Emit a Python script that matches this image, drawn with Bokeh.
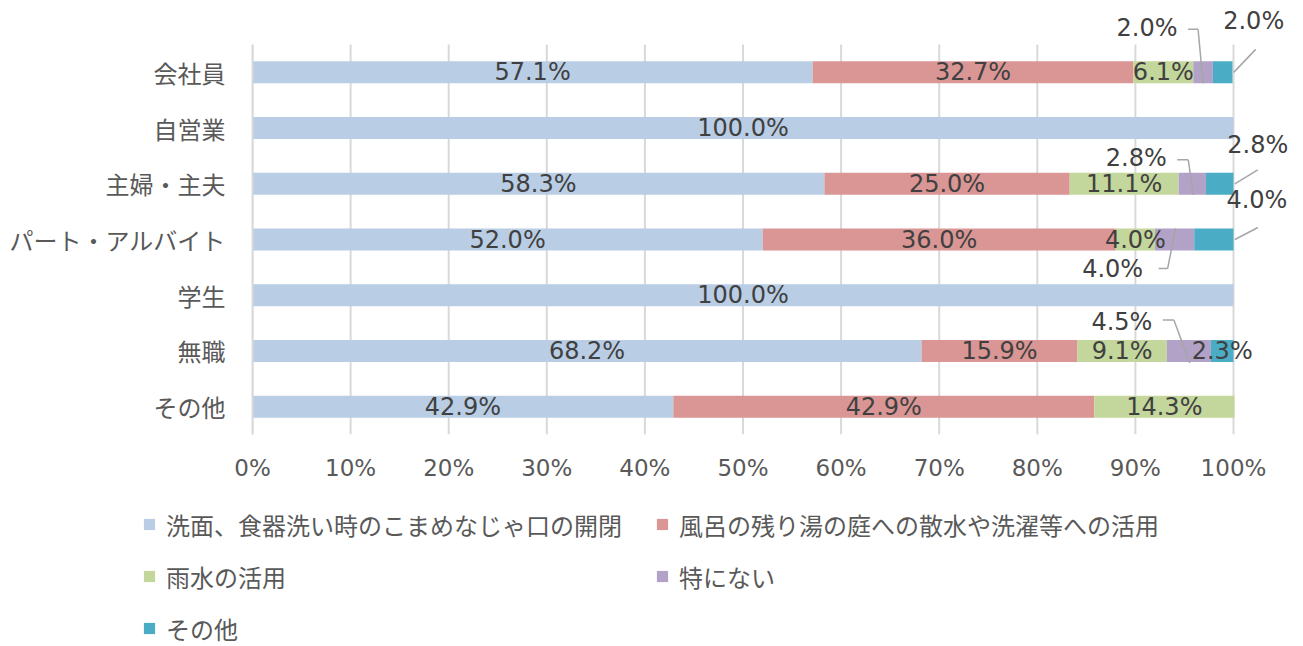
from bokeh.plotting import figure
from bokeh.models import (Range1d, FixedTicker, Legend, LegendItem, ColumnDataSource,
                          LabelSet, Arrow)
from bokeh.core.properties import value
from bokeh.embed import file_html
from bokeh.resources import INLINE

# ---------------- data ----------------
categories = ["会社員", "自営業", "主婦・主夫", "パート・アルバイト", "学生", "無職", "その他"]
series_names = ["洗面、食器洗い時のこまめなじゃ口の開閉",
                "風呂の残り湯の庭への散水や洗濯等への活用",
                "雨水の活用", "特にない", "その他"]
s_wash = [57.1, 100.0, 58.3, 52.0, 100.0, 68.2, 42.9]
s_bath = [32.7, 0.0, 25.0, 36.0, 0.0, 15.9, 42.9]
s_rain = [6.1, 0.0, 11.1, 4.0, 0.0, 9.1, 14.3]
s_none = [2.0, 0.0, 2.8, 4.0, 0.0, 4.5, 0.0]
s_other = [2.0, 0.0, 2.8, 4.0, 0.0, 2.3, 0.0]
x_ticks = [0, 10, 20, 30, 40, 50, 60, 70, 80, 90, 100]
x_tick_labels = ["0%", "10%", "20%", "30%", "40%", "50%", "60%", "70%", "80%", "90%", "100%"]

series = [s_wash, s_bath, s_rain, s_none, s_other]
colors = ["#B9CDE5", "#D99694", "#C3D69B", "#B3A2C7", "#4BACC6"]

# displaced labels: (category index, series index, label offset px, leader path px rel. to segment centre)
moved = [
    (0, 3, (-56, -44), [(-15, -43), (-5, -43), (0, 11)]),
    (0, 4, (31, -51), [(33, -23), (11, 0)]),
    (2, 3, (-56, -26), [(-15, -24), (-4, -24), (1, 11)]),
    (2, 4, (38, -39), [(38, -14), (15, 0)]),
    (3, 3, (-62, 29), [(-16, 29), (-7, 29), (1, -11)]),
    (3, 4, (43, -40), [(44, -12), (21, 0)]),
    (5, 3, (-67, -29), [(-26, -31), (-15, -31), (1, 12)]),
]

# ---------------- layout ----------------
W = 1303
H1, H2 = 490, 156            # chart figure / legend figure
BL = 252                     # frame left
FRAME_BOTTOM = 434
AXIS_W = 981                 # pixels for 0..100 %
AXIS_TOP = 44                # pixel where the first category band starts
n = len(categories)
px_x = 100.0 / AXIS_W
px_y = n / (FRAME_BOTTOM - AXIS_TOP)
x_end = 100.0 + (W - BL - AXIS_W) * px_x
y_top = -0.5 - AXIS_TOP * px_y

p = figure(width=W, height=H1, x_range=Range1d(0, x_end), y_range=Range1d(n - 0.5, y_top),
           output_backend="svg", toolbar_location=None,
           min_border_left=BL, min_border_right=0, min_border_top=0,
           min_border_bottom=H1 - FRAME_BOTTOM)
p.outline_line_color = None
p.background_fill_color = "white"
p.xgrid.grid_line_color = None
p.ygrid.grid_line_color = None

# vertical gridlines limited to the category area
p.segment(x0=x_ticks, y0=[-0.5] * len(x_ticks), x1=x_ticks, y1=[n - 0.5] * len(x_ticks),
          line_color="#D9D9D9", line_width=2)

ys = list(range(n))
src = ColumnDataSource(dict(y=ys, **{f"s{i}": s for i, s in enumerate(series)}))
stackers = [f"s{i}" for i in range(len(series))]
p.hbar_stack(stackers, y="y", height=0.395, color=colors, line_color=None, source=src)

# axes
p.xaxis.ticker = FixedTicker(ticks=x_ticks)
p.xaxis.major_label_overrides = {t: l for t, l in zip(x_ticks, x_tick_labels)}
p.xaxis.axis_line_color = None
p.xaxis.major_tick_line_color = None
p.xaxis.minor_tick_line_color = None
p.xaxis.major_label_text_font = "DejaVu Sans"
p.xaxis.major_label_text_font_size = "23px"
p.xaxis.major_label_text_color = "#595959"
p.xaxis.major_label_standoff = 14

p.yaxis.ticker = FixedTicker(ticks=ys)
p.yaxis.bounds = (-0.5, n - 0.5)
p.yaxis.major_label_overrides = {i: c for i, c in enumerate(categories)}
p.yaxis.axis_line_color = "#D9D9D9"
p.yaxis.axis_line_width = 2
p.yaxis.major_tick_line_color = None
p.yaxis.minor_tick_line_color = None
p.yaxis.major_label_text_font = "Noto Sans CJK JP"
p.yaxis.major_label_text_font_size = "24px"
p.yaxis.major_label_text_color = "#595959"
p.yaxis.major_label_standoff = 21

# data labels
moved_keys = {(c, s): (off, path) for c, s, off, path in moved}
lx, ly, lt, lxo, lyo = [], [], [], [], []
a_x0, a_y0, a_x1, a_y1 = [], [], [], []
for ci in range(n):
    cum = 0.0
    for si, s in enumerate(series):
        v = s[ci]
        if v <= 0:
            continue
        cx = cum + v / 2.0
        cum += v
        lx.append(cx)
        ly.append(ci)
        lt.append(f"{v:.1f}%")
        if (ci, si) in moved_keys:
            (dx, dy), path = moved_keys[(ci, si)]
            lxo.append(dx)
            lyo.append(-dy)
            for (ax, ay), (bx, by) in zip(path[:-1], path[1:]):
                a_x0.append(cx + ax * px_x)
                a_y0.append(ci + ay * px_y)
                a_x1.append(cx + bx * px_x)
                a_y1.append(ci + by * px_y)
        else:
            lxo.append(0)
            lyo.append(0)

arrow_src = ColumnDataSource(dict(x0=a_x0, y0=a_y0, x1=a_x1, y1=a_y1))
p.add_layout(Arrow(end=None, x_start="x0", y_start="y0", x_end="x1", y_end="y1",
                   source=arrow_src, line_color="#A6A6A6", line_width=1.5))

lab_src = ColumnDataSource(dict(x=lx, y=ly, t=lt, xo=lxo, yo=lyo))
p.add_layout(LabelSet(x="x", y="y", text="t", x_offset="xo", y_offset="yo", source=lab_src,
                      text_align="center", text_baseline="middle",
                      text_font=value("DejaVu Sans"), text_font_size="24px",
                      text_color="#404040"))

# ---------------- legend figure (own root, placed under the chart) ----------------
q = figure(width=W, height=H2, x_range=Range1d(0, 1), y_range=Range1d(0, 1),
           output_backend="svg", toolbar_location=None,
           x_axis_location=None, y_axis_location=None,
           min_border_left=0, min_border_right=0, min_border_top=0, min_border_bottom=0)
q.outline_line_color = None
q.xgrid.grid_line_color = None
q.ygrid.grid_line_color = None
leg_renderers = q.hbar_stack(stackers, y="y", height=0.395, color=colors,
                             line_color=None, source=src)
for r in leg_renderers:
    r.visible = False

items = [LegendItem(label=nm, renderers=[r]) for nm, r in zip(series_names, leg_renderers)]
legend = Legend(items=items, location=(142, -8), orientation="horizontal", ncols=2,
                glyph_width=14, glyph_height=14, label_standoff=10, label_width=489,
                label_height=52, spacing=0, padding=0, margin=0,
                border_line_color=None, background_fill_alpha=0,
                inactive_fill_alpha=0,
                label_text_font="Noto Sans CJK JP", label_text_font_size="24px",
                label_text_color="#595959")
q.add_layout(legend, "center")

open("out.html", "w").write(file_html([p, q], INLINE))
